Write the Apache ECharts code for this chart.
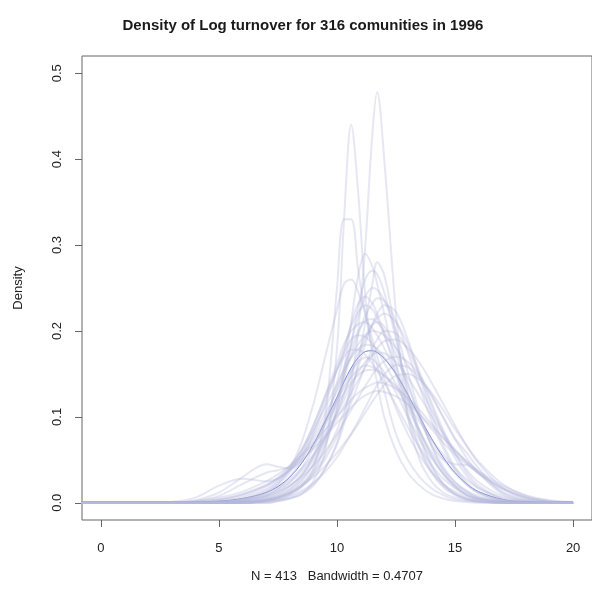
<!DOCTYPE html>
<html>
<head>
<meta charset="utf-8">
<script src="https://cdn.jsdelivr.net/npm/echarts@6/dist/echarts.min.js"></script>
<style>html,body{margin:0;padding:0;background:#fff}#c{width:592px;height:592px}</style>
</head>
<body>
<div id="c"></div>
<script>
const titleText = 'Density of Log turnover for 316 comunities in 1996';
const xAxisTitle = 'N = 413   Bandwidth = 0.4707';
const yAxisTitle = 'Density';
const xTicks = [0, 5, 10, 15, 20];
const yTicks = [0, 0.1, 0.2, 0.3, 0.4, 0.5];
const xGrid = [-1,0,1,2,3,4,5,6,7,7.5,8,8.5,9,9.5,10,10.3,10.6,10.9,11.2,11.5,11.7,12,12.5,13,13.5,14,14.5,15,15.5,16,17,18,19,20];
const overallDensity = [0.001,0.001,0.001,0.001,0.001,0.001,0.002,0.005,0.012,0.019,0.03,0.046,0.068,0.095,0.123,0.141,0.157,0.169,0.176,0.177,0.175,0.168,0.15,0.126,0.1,0.075,0.053,0.035,0.022,0.013,0.004,0.001,0,0];
const communityDensities = [
 [0,0,0,0,0,0,0.001,0.004,0.014,0.024,0.038,0.056,0.078,0.104,0.13,0.152,0.17,0.185,0.195,0.2,0.199,0.195,0.18,0.16,0.135,0.108,0.082,0.058,0.038,0.024,0.008,0.002,0,0],
 [0,0,0,0,0,0,0,0.002,0.008,0.016,0.03,0.05,0.08,0.115,0.155,0.18,0.205,0.222,0.23,0.225,0.215,0.195,0.16,0.12,0.085,0.055,0.033,0.018,0.009,0.004,0.001,0,0,0],
 [0,0,0,0,0,0,0.001,0.003,0.01,0.017,0.027,0.04,0.056,0.076,0.098,0.113,0.128,0.143,0.158,0.172,0.18,0.188,0.19,0.18,0.163,0.14,0.115,0.09,0.066,0.046,0.018,0.006,0.001,0],
 [0,0,0,0,0,0.002,0.008,0.022,0.035,0.038,0.042,0.055,0.074,0.097,0.12,0.134,0.146,0.155,0.16,0.158,0.155,0.148,0.133,0.114,0.094,0.074,0.056,0.04,0.027,0.017,0.006,0.002,0,0],
 [0,0,0,0,0,0,0,0.001,0.005,0.01,0.019,0.033,0.054,0.083,0.12,0.146,0.172,0.196,0.218,0.232,0.238,0.235,0.212,0.175,0.135,0.096,0.063,0.038,0.021,0.011,0.002,0,0,0],
 [0,0,0,0,0,0,0.001,0.003,0.008,0.013,0.02,0.03,0.043,0.06,0.08,0.094,0.108,0.122,0.136,0.149,0.157,0.165,0.17,0.164,0.148,0.126,0.1,0.075,0.058,0.04,0.012,0.003,0,0],
 [0,0,0,0,0,0,0.002,0.006,0.016,0.026,0.041,0.062,0.09,0.125,0.162,0.185,0.2,0.208,0.21,0.203,0.195,0.18,0.15,0.116,0.083,0.055,0.034,0.019,0.01,0.005,0.001,0,0,0],
 [0,0,0,0,0,0,0,0,0.002,0.005,0.01,0.02,0.038,0.068,0.11,0.145,0.185,0.228,0.26,0.27,0.266,0.245,0.19,0.13,0.08,0.045,0.022,0.01,0.004,0.002,0,0,0,0],
 [0,0,0,0,0,0.002,0.006,0.013,0.025,0.033,0.043,0.055,0.069,0.085,0.101,0.11,0.12,0.128,0.134,0.138,0.14,0.139,0.133,0.122,0.108,0.092,0.076,0.06,0.046,0.034,0.017,0.007,0.002,0],
 [0,0,0,0,0,0,0,0.002,0.006,0.011,0.02,0.032,0.05,0.075,0.105,0.126,0.148,0.17,0.19,0.207,0.215,0.22,0.21,0.185,0.152,0.117,0.085,0.057,0.035,0.02,0.005,0.001,0,0],
 [0,0,0,0,0,0,0.001,0.004,0.012,0.022,0.04,0.07,0.115,0.17,0.225,0.255,0.26,0.245,0.22,0.19,0.17,0.145,0.11,0.08,0.055,0.036,0.022,0.013,0.007,0.004,0.001,0,0,0],
 [0,0,0,0,0,0,0,0.001,0.004,0.007,0.012,0.02,0.03,0.043,0.058,0.069,0.08,0.092,0.105,0.118,0.126,0.137,0.148,0.15,0.143,0.128,0.108,0.086,0.066,0.048,0.022,0.008,0.002,0],
 [0,0,0,0,0,0.001,0.003,0.008,0.019,0.029,0.043,0.061,0.084,0.111,0.138,0.155,0.169,0.179,0.184,0.183,0.179,0.17,0.15,0.125,0.098,0.073,0.051,0.034,0.021,0.012,0.003,0.001,0,0],
 [0,0,0,0,0,0,0,0,0.003,0.006,0.013,0.025,0.045,0.077,0.12,0.152,0.186,0.216,0.24,0.25,0.248,0.236,0.2,0.152,0.105,0.066,0.038,0.02,0.009,0.004,0.001,0,0,0],
 [0,0,0,0,0,0.003,0.012,0.03,0.045,0.042,0.04,0.048,0.066,0.092,0.12,0.138,0.153,0.164,0.169,0.167,0.162,0.152,0.128,0.1,0.074,0.052,0.034,0.021,0.012,0.006,0.002,0,0,0],
 [0,0,0,0,0,0,0,0.001,0.003,0.006,0.011,0.019,0.032,0.051,0.077,0.096,0.117,0.138,0.16,0.18,0.19,0.2,0.197,0.178,0.148,0.113,0.08,0.052,0.031,0.017,0.004,0.001,0,0],
 [0,0,0,0,0,0,0,0,0.002,0.004,0.009,0.018,0.035,0.065,0.11,0.155,0.21,0.265,0.29,0.275,0.255,0.22,0.16,0.105,0.065,0.037,0.02,0.01,0.005,0.002,0,0,0,0],
 [0,0,0,0,0,0,0,0,0.001,0.003,0.006,0.012,0.022,0.04,0.068,0.092,0.125,0.165,0.21,0.255,0.28,0.265,0.195,0.125,0.075,0.042,0.022,0.011,0.005,0.002,0,0,0,0],
 [0,0,0,0,0,0,0,0,0,0.002,0.005,0.01,0.02,0.04,0.07,0.1,0.14,0.2,0.3,0.43,0.478,0.4,0.22,0.1,0.05,0.025,0.012,0.006,0.003,0.001,0,0,0,0],
 [0,0,0,0,0,0,0,0,0,0.002,0.005,0.01,0.025,0.06,0.18,0.33,0.44,0.36,0.24,0.17,0.14,0.1,0.06,0.035,0.02,0.01,0.005,0.002,0.001,0,0,0,0,0],
 [0,0,0,0,0,0,0,0,0.002,0.006,0.012,0.022,0.04,0.1,0.25,0.33,0.33,0.27,0.22,0.18,0.16,0.13,0.08,0.05,0.03,0.017,0.009,0.004,0.002,0.001,0,0,0,0],
 [0,0,0,0,0,0.001,0.004,0.01,0.02,0.028,0.038,0.052,0.07,0.092,0.114,0.128,0.14,0.149,0.154,0.155,0.153,0.148,0.136,0.12,0.103,0.086,0.07,0.056,0.045,0.035,0.016,0.005,0.001,0],
 [0,0,0,0,0,0,0,0.001,0.004,0.008,0.015,0.027,0.045,0.072,0.105,0.128,0.152,0.175,0.194,0.207,0.21,0.205,0.18,0.14,0.1,0.068,0.05,0.045,0.044,0.034,0.01,0.002,0,0],
 [0,0,0,0,0,0,0.001,0.004,0.012,0.021,0.035,0.056,0.085,0.12,0.155,0.175,0.19,0.195,0.193,0.185,0.177,0.163,0.138,0.11,0.083,0.059,0.039,0.024,0.014,0.008,0.002,0,0,0],
 [0,0,0,0,0,0,0,0,0.003,0.006,0.011,0.02,0.034,0.055,0.085,0.107,0.132,0.158,0.185,0.208,0.22,0.23,0.222,0.19,0.147,0.104,0.068,0.041,0.023,0.012,0.003,0,0,0],
 [0,0,0,0,0,0.001,0.004,0.01,0.021,0.029,0.039,0.05,0.063,0.078,0.093,0.102,0.111,0.119,0.125,0.129,0.13,0.129,0.124,0.115,0.103,0.089,0.075,0.061,0.048,0.037,0.02,0.009,0.003,0.001],
 [0,0,0,0,0,0,0,0.002,0.007,0.013,0.024,0.04,0.064,0.096,0.133,0.158,0.18,0.2,0.212,0.214,0.21,0.2,0.172,0.137,0.1,0.067,0.042,0.024,0.013,0.006,0.001,0,0,0],
 [0,0,0,0,0.001,0.006,0.02,0.028,0.025,0.028,0.038,0.06,0.09,0.124,0.155,0.17,0.178,0.178,0.172,0.162,0.154,0.14,0.114,0.088,0.064,0.044,0.028,0.017,0.009,0.005,0.001,0,0,0],
 [0,0,0,0,0,0,0,0,0.002,0.004,0.008,0.014,0.023,0.036,0.053,0.066,0.08,0.095,0.111,0.127,0.137,0.149,0.16,0.158,0.145,0.124,0.099,0.074,0.052,0.035,0.013,0.004,0.001,0],
 [0,0,0,0,0,0,0,0.001,0.004,0.008,0.016,0.03,0.055,0.092,0.14,0.175,0.208,0.232,0.24,0.232,0.22,0.197,0.15,0.1,0.062,0.035,0.018,0.009,0.004,0.002,0,0,0,0],
 [0,0,0,0,0,0,0.001,0.003,0.009,0.015,0.024,0.037,0.054,0.077,0.103,0.12,0.137,0.152,0.164,0.172,0.175,0.174,0.164,0.146,0.124,0.101,0.08,0.062,0.048,0.036,0.017,0.006,0.001,0]
];

const FONT = 'Liberation Sans, Arial, Helvetica, sans-serif';
const toPairs = arr => xGrid.map((x, i) => [x, arr[i]]);

const series = [{
  type: 'line', data: toPairs(overallDensity), showSymbol: false, smooth: 0.35,
  lineStyle: { color: '#6f7ecc', width: 1 }, silent: true, z: 2
}];
communityDensities.forEach(c => series.push({
  type: 'line', data: toPairs(c), showSymbol: false, smooth: 0.35,
  lineStyle: { color: 'rgba(182,186,220,0.34)', width: 2 }, silent: true, z: 3
}));

const chart = echarts.init(document.getElementById('c'), null, { renderer: 'canvas' });
chart.setOption({
  animation: false,
  backgroundColor: '#ffffff',
  title: {
    text: titleText, left: 298, top: 13, textAlign: 'center',
    textStyle: { fontFamily: FONT, fontSize: 15, fontWeight: 'bold', color: '#1a1a1a' }
  },
  grid: { left: 82, top: 56, width: 511, height: 464, show: true, borderColor: '#666', borderWidth: 1, backgroundColor: 'transparent' },
  xAxis: {
    type: 'value', min: -0.8, max: 20.8,
    name: xAxisTitle, nameLocation: 'middle', nameGap: 50,
    nameTextStyle: { fontFamily: FONT, fontSize: 13, color: '#222' },
    axisLine: { show: false, onZero: false },
    axisTick: { show: true, length: 7, lineStyle: { color: '#666' }, customValues: xTicks },
    axisLabel: { fontFamily: FONT, fontSize: 13, color: '#222', margin: 22, customValues: xTicks, formatter: v => String(v) },
    splitLine: { show: false }
  },
  yAxis: {
    type: 'value', min: -0.02, max: 0.52,
    name: yAxisTitle, nameLocation: 'middle', nameGap: 57,
    nameTextStyle: { fontFamily: FONT, fontSize: 13, color: '#222' },
    axisLine: { show: false, onZero: false },
    axisTick: { show: true, length: 7, lineStyle: { color: '#666' }, customValues: yTicks },
    axisLabel: { fontFamily: FONT, fontSize: 13, color: '#222', margin: 18, rotate: 90, customValues: yTicks, formatter: v => v.toFixed(1) },
    splitLine: { show: false }
  },
  series: series
});
</script>
</body>
</html>
